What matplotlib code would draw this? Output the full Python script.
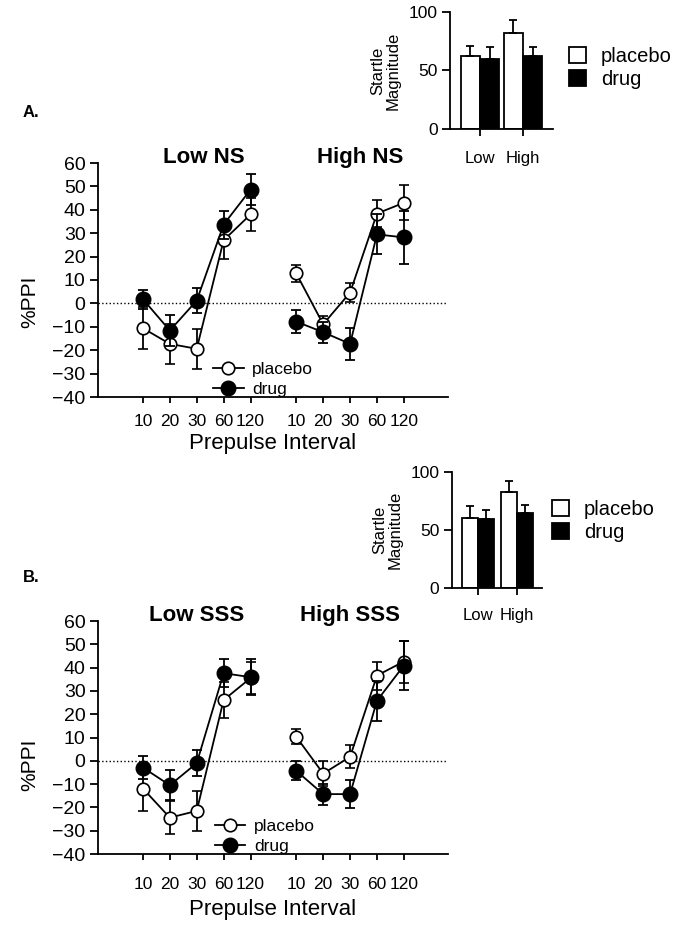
import numpy as np
import matplotlib
matplotlib.use('Agg')
import matplotlib.pyplot as plt
from matplotlib.lines import Line2D
from matplotlib.patches import Patch

plt.rcParams['font.family'] = ['Liberation Sans', 'DejaVu Sans']

# prepulse intervals (ms)
intervals = ['10', '20', '30', '60', '120']

# panel A: %PPI by NS group
a_titles = ['Low NS', 'High NS']
a_low_placebo = [-10.6, -17.3, -19.4, 27.0, 38.0]
a_low_placebo_err = [9.0, 8.5, 8.5, 8.0, 7.0]
a_low_drug = [1.8, -11.6, 1.2, 33.7, 48.6]
a_low_drug_err = [4.0, 6.5, 5.5, 6.0, 6.7]
a_high_placebo = [12.8, -8.9, 4.6, 38.4, 43.0]
a_high_placebo_err = [3.5, 3.7, 4.0, 5.6, 7.5]
a_high_drug = [-7.8, -12.3, -17.3, 29.5, 28.2]
a_high_drug_err = [5.0, 4.5, 7.0, 8.5, 11.5]

# panel B: %PPI by SSS group
b_titles = ['Low SSS', 'High SSS']
b_low_placebo = [-11.9, -24.4, -21.5, 26.1, 35.5]
b_low_placebo_err = [9.5, 7.0, 8.5, 7.7, 7.0]
b_low_drug = [-2.9, -10.5, -1.0, 37.6, 35.9]
b_low_drug_err = [5.0, 6.5, 5.5, 6.0, 7.7]
b_high_placebo = [10.3, -5.5, 1.7, 36.6, 42.6]
b_high_placebo_err = [3.3, 5.5, 5.0, 6.0, 9.0]
b_high_drug = [-4.3, -14.3, -14.3, 25.8, 40.9]
b_high_drug_err = [4.0, 4.5, 6.0, 8.6, 10.5]

# startle magnitude insets
bar_groups = ['Low', 'High']
a_startle_placebo = [62.7, 82.0]
a_startle_placebo_err = [8.5, 11.4]
a_startle_drug = [60.1, 62.7]
a_startle_drug_err = [9.7, 7.0]
b_startle_placebo = [60.0, 82.9]
b_startle_placebo_err = [11.0, 9.5]
b_startle_drug = [59.1, 64.3]
b_startle_drug_err = [8.0, 7.0]

W, H = 684, 930
fig = plt.figure(figsize=(W / 100, H / 100), dpi=100)

x_low = np.arange(len(intervals))
x_high = x_low + 5.7


def px_axes(left, top, right, bottom):
    return fig.add_axes([left / W, 1 - bottom / H, (right - left) / W, (bottom - top) / H])


def style_spines(ax):
    for s in ['top', 'right']:
        ax.spines[s].set_visible(False)
    for s in ['left', 'bottom']:
        ax.spines[s].set_linewidth(1.3)


def draw_main(ax, series, titles, title_x, xpad, ylab_y, xlab_y, leg_x):
    low_p, low_pe, low_d, low_de, high_p, high_pe, high_d, high_de = series
    ax.axhline(0, color='black', ls=':', lw=1, zorder=1)
    for xs, p, pe, d, de in [(x_low, low_p, low_pe, low_d, low_de),
                             (x_high, high_p, high_pe, high_d, high_de)]:
        ax.errorbar(xs, p, yerr=pe, fmt='-o', color='black', mfc='white', mec='black',
                    ms=9, mew=1.2, lw=1.3, elinewidth=1.3, capsize=3.5, capthick=1.3, zorder=3)
        ax.errorbar(xs, d, yerr=de, fmt='-o', color='black', mfc='black', mec='black',
                    ms=10.5, lw=1.3, elinewidth=1.3, capsize=3.5, capthick=1.3, zorder=4)
    ax.set_xlim(-1.67, 11.34)
    ax.set_ylim(-40, 60)
    ax.set_yticks(range(-40, 61, 10))
    ax.set_xticks(np.concatenate([x_low, x_high]))
    ax.set_xticklabels(intervals * 2)
    ax.tick_params(axis='y', length=6, width=1.3, labelsize=14, pad=3)
    ax.tick_params(axis='x', length=4, width=1.3, labelsize=12.5, pad=xpad)
    style_spines(ax)
    for tx, t in zip(title_x, titles):
        ax.text(tx, 62.3, t, ha='center', va='center', fontsize=16, fontweight='bold')
    ax.set_ylabel('%PPI', fontsize=15)
    ax.yaxis.set_label_coords(-0.168, ylab_y)
    ax.set_xlabel('Prepulse Interval', fontsize=16)
    ax.xaxis.set_label_coords(0.5, xlab_y)
    handles = [Line2D([], [], color='black', marker='o', mfc='white', mec='black', ms=9, mew=1.2, lw=1.3),
               Line2D([], [], color='black', marker='o', mfc='black', mec='black', ms=10.5, lw=1.3)]
    ax.legend(handles, ['placebo', 'drug'], loc='lower left', bbox_to_anchor=(leg_x, 0.0),
              frameon=False, fontsize=12.5, handlelength=1.75, handletextpad=0.5,
              labelspacing=0.3, borderpad=0, borderaxespad=0)


def draw_inset(ax, p, pe, d, de, w, xlim, xpad, leg_anchor):
    pos = np.arange(len(bar_groups))
    ekw = dict(elinewidth=1.3, capthick=1.3, ecolor='black')
    ax.bar(pos - w, p, w, align='edge', color='white', edgecolor='black', lw=1.3,
           yerr=[np.zeros(len(pe)), pe], capsize=3, error_kw=ekw)
    ax.bar(pos, d, w, align='edge', color='black', edgecolor='black', lw=1.3,
           yerr=[np.zeros(len(de)), de], capsize=3, error_kw=ekw)
    ax.set_xlim(*xlim)
    ax.set_ylim(0, 100)
    ax.set_yticks([0, 50, 100])
    ax.set_xticks(pos)
    ax.set_xticklabels(bar_groups)
    ax.tick_params(axis='y', length=6, width=1.3, labelsize=12.5, pad=3)
    ax.tick_params(axis='x', length=5, width=1.3, labelsize=12, pad=xpad)
    style_spines(ax)
    ax.set_ylabel('Startle\nMagnitude', fontsize=12, linespacing=1.0, labelpad=6)
    handles = [Patch(facecolor='white', edgecolor='black', lw=1.3),
               Patch(facecolor='black', edgecolor='black', lw=1.3)]
    ax.legend(handles, ['placebo', 'drug'], loc='upper left', bbox_to_anchor=leg_anchor,
              frameon=False, fontsize=14.5, handlelength=0.85, handleheight=0.85,
              handletextpad=0.75, labelspacing=0.2, borderpad=0, borderaxespad=0)


axA = px_axes(98, 163, 448, 397)
axB = px_axes(98, 621, 448, 854)
insA = px_axes(450, 12, 553, 129)
insB = px_axes(452, 472, 542, 588)

draw_main(axA, [a_low_placebo, a_low_placebo_err, a_low_drug, a_low_drug_err,
                a_high_placebo, a_high_placebo_err, a_high_drug, a_high_drug_err],
          a_titles, [2.26, 8.09], 8.5, 0.406, -0.155, 0.329)
draw_main(axB, [b_low_placebo, b_low_placebo_err, b_low_drug, b_low_drug_err,
                b_high_placebo, b_high_placebo_err, b_high_drug, b_high_drug_err],
          b_titles, [2.0, 7.68], 12.5, 0.382, -0.195, 0.334)

draw_inset(insA, a_startle_placebo, a_startle_placebo_err, a_startle_drug, a_startle_drug_err,
           0.45, (-0.70, 1.70), 11, (1.155, 0.70))
draw_inset(insB, b_startle_placebo, b_startle_placebo_err, b_startle_drug, b_startle_drug_err,
           0.41, (-0.67, 1.64), 9.5, (1.11, 0.76))

fig.text(23 / W, 1 - 112 / H, 'A.', fontsize=12, fontweight='bold', ha='left', va='center')
fig.text(23 / W, 1 - 577 / H, 'B.', fontsize=12, fontweight='bold', ha='left', va='center')

fig.savefig('out.png', dpi=100)
